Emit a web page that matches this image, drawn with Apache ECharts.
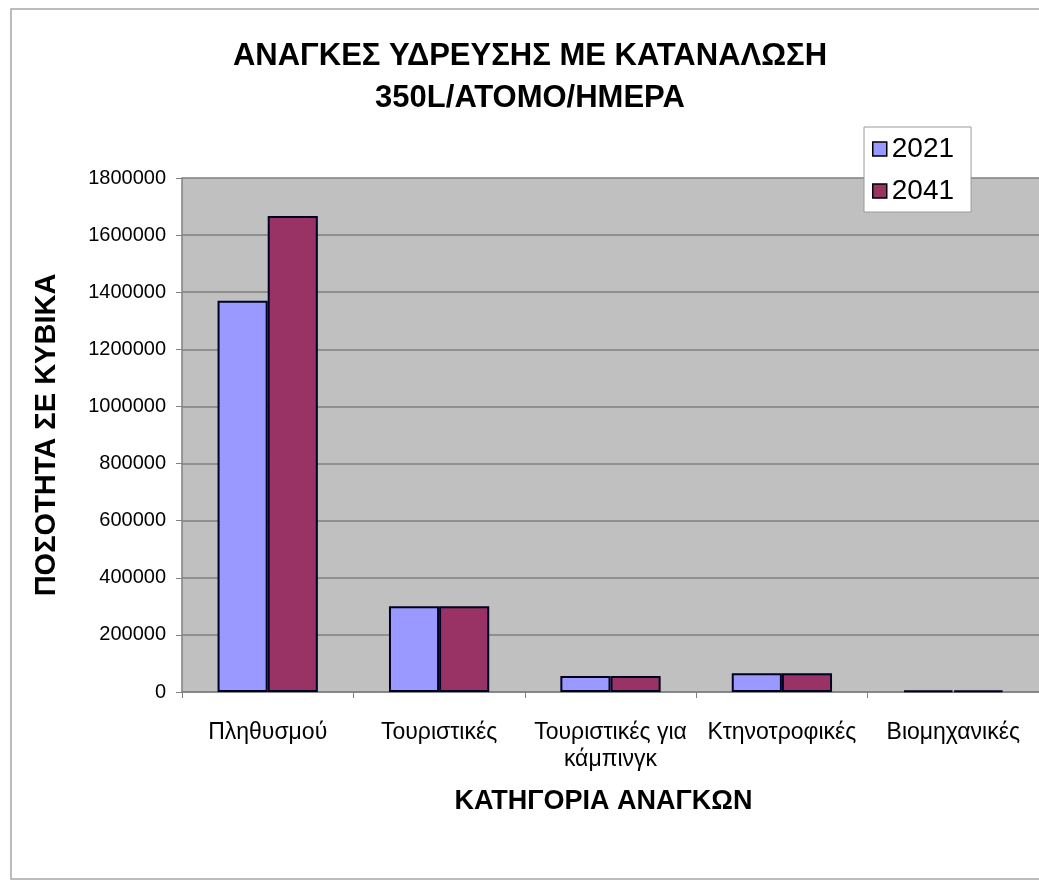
<!DOCTYPE html>
<html>
<head>
<meta charset="utf-8">
<script src="https://cdn.jsdelivr.net/npm/echarts@6/dist/echarts.min.js"></script>
<style>
  html, body { margin: 0; padding: 0; background: #fff; }
  #main { width: 1039px; height: 882px; }
</style>
</head>
<body>
<div id="main"></div>
<script>
// categories and values
var categories = ['Πληθυσμού', 'Τουριστικές', 'Τουριστικές για\nκάμπινγκ', 'Κτηνοτροφικές', 'Βιομηχανικές'];
var seriesNames = ['2021', '2041'];
var values2021 = [1370000, 300000, 56000, 66000, 6000];
var values2041 = [1667000, 300000, 56000, 66000, 6000];
var yMin = 0, yMax = 1800000, yStep = 200000;

var chartTitle = 'ΑΝΑΓΚΕΣ ΥΔΡΕΥΣΗΣ ΜΕ ΚΑΤΑΝΑΛΩΣΗ\n350L/ΑΤΟΜΟ/ΗΜΕΡΑ';
var xName = 'ΚΑΤΗΓΟΡΙΑ ΑΝΑΓΚΩΝ';
var yName = 'ΠΟΣΟΤΗΤΑ ΣΕ ΚΥΒΙΚΑ';

var colors = ['#9999ff', '#993366'];
var font = 'Liberation Sans, Arial, sans-serif';

var myChart = echarts.init(document.getElementById('main'));

myChart.setOption({
    backgroundColor: '#fff',
    animation: false,
    graphic: [{
        // outer chart frame
        type: 'rect',
        shape: { x: 11, y: 9, width: 1040, height: 870 },
        style: { fill: 'none', stroke: '#a6a6a6', lineWidth: 1.5 },
        z: -1
    }, {
        type: 'text',
        x: 530,
        y: 35,
        style: {
            text: chartTitle,
            font: 'bold 31px ' + font,
            fill: '#000',
            textAlign: 'center',
            lineHeight: 42
        }
    }],
    legend: {
        left: 864,
        top: 127,
        orient: 'vertical',
        itemWidth: 14,
        itemHeight: 14,
        itemGap: 12,
        padding: [7, 17, 6, 8],
        backgroundColor: '#fff',
        borderColor: '#9a9a9a',
        borderWidth: 1,
        icon: 'rect',
        itemStyle: { borderColor: '#000', borderWidth: 1.5 },
        textStyle: { fontSize: 28, lineHeight: 30, fontFamily: font, color: '#000' },
        data: seriesNames
    },
    grid: {
        left: 182,
        top: 178,
        right: 0,
        bottom: 190,
        show: true,
        backgroundColor: '#c0c0c0',
        borderWidth: 0
    },
    xAxis: {
        type: 'category',
        data: categories,
        name: xName,
        nameLocation: 'middle',
        nameGap: 96,
        nameTextStyle: { fontSize: 27, fontWeight: 'bold', fontFamily: font, color: '#000', padding: [0, 14, 0, 0] },
        axisLine: { lineStyle: { color: '#808080', width: 1.5 } },
        axisTick: { show: true, length: 6, interval: 0, lineStyle: { color: '#808080' } },
        axisLabel: {
            interval: 0,
            margin: 27,
            fontSize: 23,
            lineHeight: 27,
            fontFamily: font,
            color: '#000'
        }
    },
    yAxis: {
        type: 'value',
        min: yMin,
        max: yMax,
        interval: yStep,
        name: yName,
        nameLocation: 'middle',
        nameRotate: 90,
        nameGap: 121,
        nameTextStyle: { fontSize: 29, fontWeight: 'bold', fontFamily: font, color: '#000' },
        axisLine: { show: true, lineStyle: { color: '#808080', width: 1.5 } },
        axisTick: { show: true, length: 6, lineStyle: { color: '#808080' } },
        axisLabel: {
            margin: 16,
            fontSize: 20,
            fontFamily: font,
            color: '#000',
            formatter: function (v) { return String(v); }
        },
        splitLine: { show: true, lineStyle: { color: '#808080', width: 1.5 } }
    },
    series: [{
        name: seriesNames[0],
        type: 'bar',
        data: values2021,
        barGap: '0%',
        barCategoryGap: '41.5%',
        itemStyle: { color: colors[0], borderColor: '#000022', borderWidth: 2 }
    }, {
        name: seriesNames[1],
        type: 'bar',
        data: values2041,
        barGap: '0%',
        barCategoryGap: '41.5%',
        itemStyle: { color: colors[1], borderColor: '#000022', borderWidth: 2 }
    }]
});
</script>
</body>
</html>
